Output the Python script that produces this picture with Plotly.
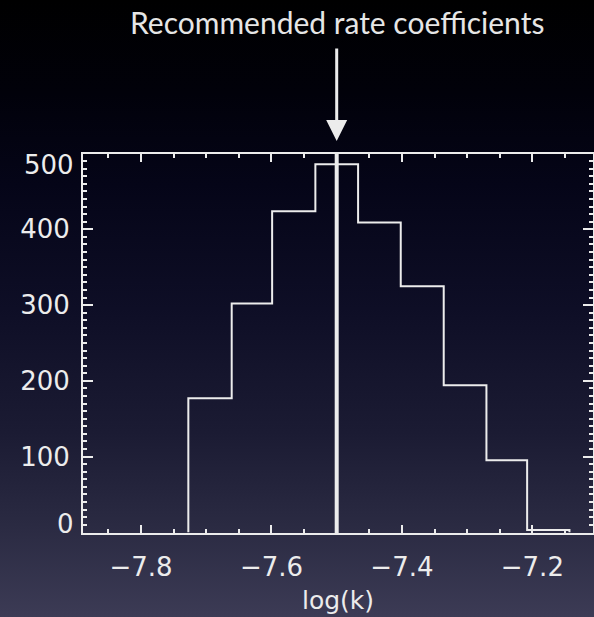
import base64
import plotly.graph_objects as go

# ---- data ----
bin_edges = [-7.7275, -7.661, -7.599, -7.5327, -7.4672, -7.4018, -7.3359, -7.2704, -7.208, -7.1431]
counts = [177, 302, 424, 486, 409, 325, 194, 95, 3]
recommended = -7.5
x_tick_vals = [-7.8, -7.6, -7.4, -7.2]
x_tick_text = ["\u22127.8", "\u22127.6", "\u22127.4", "\u22127.2"]
y_tick_vals = [0, 100, 200, 300, 400, 500]
y_tick_text = ["0", "100", "200", "300", "400", "500"]
title_text = "Recommended rate coefficients"
x_title = "log(k)"

W, H = 594, 617
ML, MR, MT, MB = 83, 1, 154, 84
pw, ph = W - ML - MR, H - MT - MB

WHITE = "#ececec"

# step outline of histogram
xs = [bin_edges[0]] + bin_edges[:-1] + [bin_edges[-1]]
ys = [0] + counts + [0]

fig = go.Figure()
fig.add_trace(go.Scatter(x=xs, y=ys, mode="lines", line=dict(color=WHITE, width=2, shape="hv"),
                         hoverinfo="skip", showlegend=False))

# background gradient
svg = f'''<svg xmlns="http://www.w3.org/2000/svg" width="{W}" height="{H}" viewBox="0 0 {W} {H}" preserveAspectRatio="none">
<defs><linearGradient id="g" x1="0" y1="0" x2="0" y2="1">
<stop offset="0" stop-color="#000000"/>
<stop offset="0.15" stop-color="#01010a"/>
<stop offset="0.3" stop-color="#050518"/>
<stop offset="0.5" stop-color="#0e0e26"/>
<stop offset="0.7" stop-color="#1b1b33"/>
<stop offset="0.85" stop-color="#2a2a42"/>
<stop offset="1" stop-color="#3c3b55"/>
</linearGradient></defs>
<rect x="0" y="0" width="{W}" height="{H}" fill="url(#g)"/></svg>'''
src = "data:image/svg+xml;base64," + base64.b64encode(svg.encode()).decode()
fig.add_layout_image(dict(source=src, xref="paper", yref="paper",
                          x=-ML / pw, y=1 + MT / ph, sizex=W / pw, sizey=H / ph,
                          xanchor="left", yanchor="top", sizing="stretch", layer="below"))

# vertical recommended line
fig.add_shape(type="line", xref="x", yref="paper", x0=recommended, x1=recommended,
              y0=0, y1=1.005, line=dict(color=WHITE, width=4))

# arrow + title
fig.add_annotation(x=recommended, xref="x", y=1 + 13 / ph, yref="paper", text="",
                   showarrow=True, ax=0, ay=-94, arrowhead=2, arrowsize=1.4,
                   arrowwidth=3, arrowcolor=WHITE)
fig.add_annotation(x=recommended, xref="x", y=1 + (MT - 22) / ph, yref="paper",
                   text=title_text, showarrow=False, yanchor="middle", xanchor="center",
                   font=dict(family="Lato", size=30, color="#e6e6e6"))

# end y labels shifted inward
fig.add_annotation(x=0, xref="paper", y=0, yref="paper", text=y_tick_text[0], showarrow=False,
                   xanchor="right", yanchor="middle", xshift=-7, yshift=9,
                   font=dict(family="DejaVu Sans", size=26, color=WHITE))
fig.add_annotation(x=0, xref="paper", y=1, yref="paper", text=y_tick_text[-1], showarrow=False,
                   xanchor="right", yanchor="middle", xshift=-7, yshift=-11,
                   font=dict(family="DejaVu Sans", size=26, color=WHITE))

axis_common = dict(showline=True, linewidth=2, linecolor=WHITE, mirror="allticks",
                   ticks="inside", tickwidth=2, tickcolor=WHITE, showgrid=False,
                   zeroline=False, tickfont=dict(family="DejaVu Sans", size=26, color=WHITE))

fig.update_xaxes(range=[-7.889, -7.107], tickvals=x_tick_vals, ticktext=x_tick_text,
                 ticklen=8, ticklabelstandoff=10,
                 minor=dict(dtick=0.05, tick0=-7.8, ticks="inside", ticklen=4, tickwidth=2,
                            tickcolor=WHITE, showgrid=False),
                 title=dict(text=x_title, font=dict(family="DejaVu Sans", size=25, color=WHITE),
                            standoff=10),
                 **axis_common)
fig.update_yaxes(range=[-1, 499.5], tickvals=y_tick_vals,
                 ticktext=[""] + y_tick_text[1:-1] + [""],
                 ticklen=10, ticklabelstandoff=6,
                 minor=dict(dtick=10, tick0=0, ticks="inside", ticklen=4, tickwidth=2,
                            tickcolor=WHITE, showgrid=False),
                 **axis_common)

fig.update_layout(width=W, height=H, margin=dict(l=ML, r=MR, t=MT, b=MB, autoexpand=False),
                  paper_bgcolor="#000000", plot_bgcolor="rgba(0,0,0,0)", showlegend=False)

fig.write_html("out.html")
